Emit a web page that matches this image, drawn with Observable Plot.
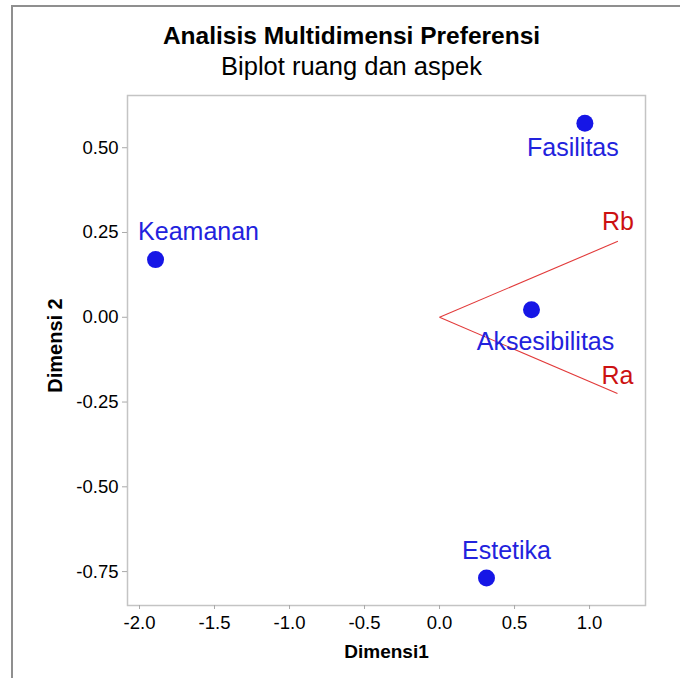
<!DOCTYPE html>
<html><head><meta charset="utf-8">
<script src="https://cdn.jsdelivr.net/npm/d3@7"></script>
<script src="https://cdn.jsdelivr.net/npm/@observablehq/plot@0.6"></script>
<style>
body{margin:0;background:#fff;font-family:"Liberation Sans",Arial,sans-serif;}
#page{position:relative;width:680px;height:678px;overflow:hidden;background:#fff;}
#border{position:absolute;left:11px;top:5px;right:-10px;bottom:-10px;border-top:2px solid #8f8f8f;border-left:2px solid #8f8f8f;}
.t{position:absolute;left:23px;right:0;text-align:center;line-height:1;white-space:nowrap;color:#000;}
#title{top:24px;font-size:24.5px;font-weight:bold;}
#subtitle{top:54px;font-size:25.5px;}
#chart{position:absolute;left:0;top:0;}
</style>
</head><body>
<div id="page">
  <div id="border"></div>
  <div id="chart"></div>
  <div class="t" id="title">Analisis Multidimensi Preferensi</div>
  <div class="t" id="subtitle">Biplot ruang dan aspek</div>
</div>
<script>
// Object points (aspek)
const objLabels = ["Fasilitas", "Keamanan", "Aksesibilitas", "Estetika"];
const objDim1 = [0.969, -1.893, 0.613, 0.313];
const objDim2 = [0.572, 0.170, 0.022, -0.769];

// Subject vectors (ruang)
const vecLabels = ["Ra", "Rb"];
const vecStartX = [0, 0];
const vecStartY = [0, 0];
const vecDim1 = [1.186, 1.189];
const vecDim2 = [-0.225, 0.224];

// Tick values
const xTicks = [-2.0, -1.5, -1.0, -0.5, 0.0, 0.5, 1.0];
const yTicks = [0.50, 0.25, 0.00, -0.25, -0.50, -0.75];

// Label offsets (pixels), style only
const objLabelOffsets = [[-12, 25], [43, -28], [14, 32], [20, -27]];
const vecLabelOffsets = [[0, -18], [0, -19]];

const objs = objLabels.map((name, i) => ({name, x: objDim1[i], y: objDim2[i]}));
const vecs = vecLabels.map((name, i) => ({name, x1: vecStartX[i], y1: vecStartY[i], x2: vecDim1[i], y2: vecDim2[i]}));

const blue = "#1616e6";
const blueText = "#2222dd";
const red = "#e23a3a";
const redText = "#cc1111";
const font = "Liberation Sans, Arial, sans-serif";

const marks = [
  Plot.frame({stroke: "#c4c4c4", strokeWidth: 1.5}),
  Plot.axisX({ticks: xTicks, tickFormat: d => d.toFixed(1), tickSize: 4, tickPadding: 6, fontSize: 18.5, stroke: "#aaaaaa", fill: "#000", label: null}),
  Plot.axisY({ticks: yTicks, tickFormat: d => d.toFixed(2), tickSize: 5, tickPadding: 4, fontSize: 18.5, stroke: "#aaaaaa", fill: "#000", label: null}),
  Plot.link(vecs, {x1: "x1", y1: "y1", x2: "x2", y2: "y2", stroke: red, strokeWidth: 1.1}),
  Plot.dot(objs, {x: "x", y: "y", r: 8.5, fill: blue, stroke: "none"})
];
objs.forEach((d, i) => {
  marks.push(Plot.text([d], {x: "x", y: "y", text: "name", dx: objLabelOffsets[i][0], dy: objLabelOffsets[i][1], fontSize: 25, fill: blueText, textAnchor: "middle"}));
});
vecs.forEach((d, i) => {
  marks.push(Plot.text([d], {x: "x2", y: "y2", text: "name", dx: vecLabelOffsets[i][0], dy: vecLabelOffsets[i][1], fontSize: 25, fill: redText, textAnchor: "middle"}));
});
marks.push(Plot.text(["Dimensi1"], {frameAnchor: "bottom", text: d => d, dy: 52, lineAnchor: "bottom", textAnchor: "middle", fontSize: 19, fontWeight: "bold", fill: "#000"}));
marks.push(Plot.text(["Dimensi 2"], {frameAnchor: "left", text: d => d, dx: -71.5, dy: -5, rotate: -90, textAnchor: "middle", fontSize: 20, fontWeight: "bold", fill: "#000"}));

const plot = Plot.plot({
  width: 680, height: 678,
  marginTop: 95, marginBottom: 73, marginLeft: 127, marginRight: 35,
  style: {fontFamily: font, background: "transparent", overflow: "visible"},
  x: {domain: [-2.08, 1.373]},
  y: {domain: [-0.85, 0.654]},
  marks
});
document.getElementById("chart").appendChild(plot);
</script>
</body></html>
